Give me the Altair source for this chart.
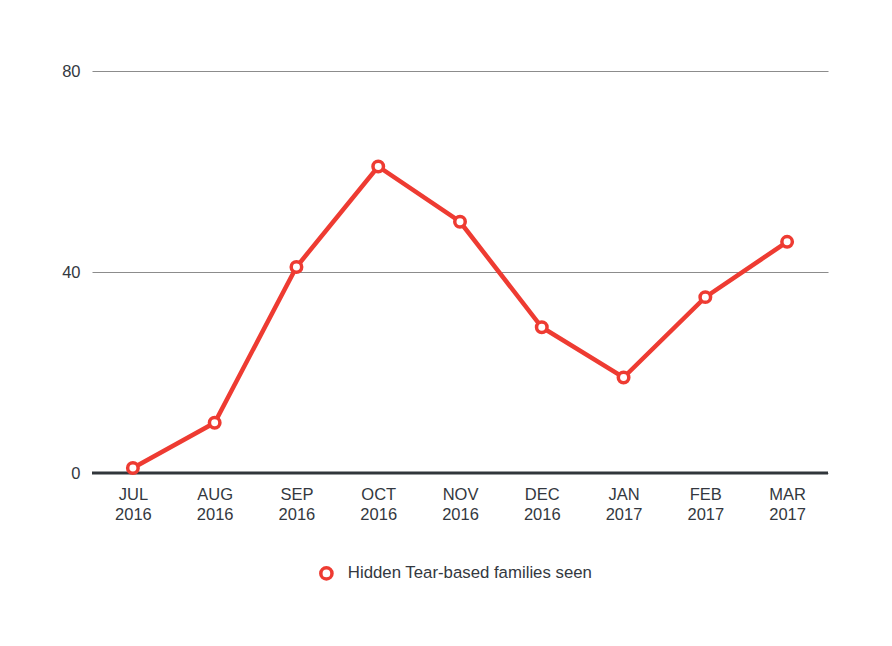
import altair as alt
import pandas as pd

months = ["JUL 2016", "AUG 2016", "SEP 2016", "OCT 2016", "NOV 2016",
          "DEC 2016", "JAN 2017", "FEB 2017", "MAR 2017"]
values = [1, 10, 41, 61, 50, 29, 19, 35, 46]
series = "Hidden Tear-based families seen"

RED = "#ee3b32"
TEXT = "#333840"
FONT = "Liberation Sans"

df = pd.DataFrame({"month": months, "value": values, "series": series})

x = alt.X("month:N", sort=months, title=None,
          scale=alt.Scale(paddingInner=0, paddingOuter=0.5),
          axis=alt.Axis(labelExpr="split(datum.label, ' ')", labelAngle=0,
                        labelFontSize=16.5, labelColor=TEXT, labelFont=FONT,
                        labelLineHeight=20, labelPadding=13, ticks=False,
                        domain=False, grid=False, labelBaseline="top"))
y = alt.Y("value:Q", title=None,
          scale=alt.Scale(domain=[0, 80], nice=False),
          axis=alt.Axis(values=[0, 40, 80], labelFontSize=16.5, labelColor=TEXT,
                        labelFont=FONT, labelPadding=12, ticks=False,
                        domain=False, grid=True, gridColor="#8c8c8c",
                        gridWidth=1.2))

color = alt.Color("series:N", title=None,
                  scale=alt.Scale(range=[RED]),
                  legend=alt.Legend(orient="none", legendX=226, legendY=494,
                                    symbolType="circle", symbolSize=125,
                                    symbolStrokeWidth=3.5, symbolFillColor="white",
                                    labelFontSize=16.8, labelColor=TEXT,
                                    labelFont=FONT, labelOffset=13,
                                    labelLimit=0))

line = alt.Chart(df).mark_line(strokeWidth=4.5, color=RED).encode(
    x=x, y=y)
points = alt.Chart(df).mark_point(filled=False, fill="white", size=110,
                                  strokeWidth=3.5, opacity=1).encode(
    x=x, y=y, color=color)
zero = alt.Chart(pd.DataFrame({"z": [0]})).mark_rule(
    color="#31363b", strokeWidth=3).encode(
    y=alt.Y("z:Q", scale=alt.Scale(domain=[0, 80], nice=False)))

chart = alt.layer(line, zero, points).properties(
    width=736, height=402,
    background="white",
    autosize=alt.AutoSizeParams(type="none"),
    padding={"left": 84, "top": 63, "right": 56, "bottom": 165},
).configure_view(strokeWidth=0, stroke="transparent")

chart.save("out.html", embed_options={"renderer": "svg", "actions": False})
